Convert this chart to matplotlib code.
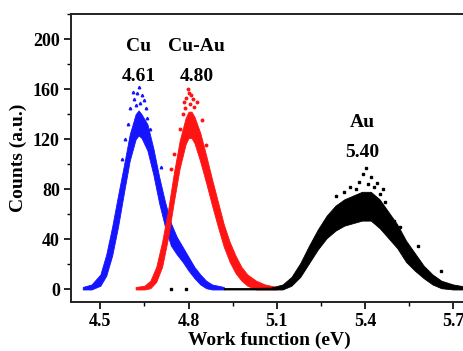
import matplotlib
matplotlib.use("Agg")
import matplotlib.pyplot as plt
from matplotlib.ticker import MultipleLocator

# Cu
cu_x = [4.44, 4.47, 4.50, 4.52, 4.54, 4.56, 4.58, 4.60, 4.62, 4.63, 4.64, 4.66,
        4.68, 4.70, 4.72, 4.74, 4.76, 4.78, 4.80, 4.82, 4.84, 4.86, 4.88, 4.92]
cu_lo = [0, 0, 3, 11, 27, 50, 77, 103, 120, 123, 121, 111,
         92, 69, 50, 35, 28, 22, 15, 9, 4, 1, 0, 0]
cu_hi = [2, 4, 12, 28, 50, 75, 99, 124, 140, 143, 140, 132,
         113, 90, 70, 53, 42, 34, 26, 18, 12, 7, 4, 2]
cu_out_x = [4.632, 4.625, 4.640, 4.615, 4.600, 4.655, 4.585, 4.670, 4.610, 4.648,
            4.620, 4.636, 4.595, 4.660, 4.705, 4.575]
cu_out_y = [162, 157, 155, 152, 145, 145, 120, 128, 158, 151,
            147, 149, 132, 137, 98, 104]

# Cu-Au
cuau_x = [4.62, 4.65, 4.67, 4.69, 4.71, 4.73, 4.75, 4.77, 4.79, 4.80, 4.81, 4.82,
          4.84, 4.86, 4.88, 4.90, 4.92, 4.94, 4.96, 4.98, 5.00, 5.03, 5.06, 5.10]
cuau_lo = [0, 0, 1, 6, 18, 41, 70, 97, 116, 121, 121, 117,
           102, 85, 67, 50, 34, 22, 13, 7, 3, 0, 0, 0]
cuau_hi = [2, 3, 7, 18, 38, 63, 93, 119, 137, 142, 142, 138,
           125, 107, 88, 70, 52, 38, 27, 18, 12, 7, 4, 2]
cuau_out_x = [4.797, 4.800, 4.810, 4.785, 4.830, 4.780, 4.845, 4.750, 4.792, 4.820,
              4.805, 4.788, 4.815, 4.770, 4.860, 4.740]
cuau_out_y = [160, 157, 155, 150, 150, 140, 135, 108, 153, 146,
              148, 145, 152, 128, 115, 96]

# Au
au_x = [4.92, 5.00, 5.08, 5.12, 5.15, 5.18, 5.21, 5.24, 5.27, 5.30, 5.33, 5.36,
        5.39, 5.42, 5.45, 5.48, 5.51, 5.54, 5.57, 5.60, 5.63, 5.66, 5.70, 5.75]
au_lo = [0, 0, 0, 0, 3, 10, 21, 32, 41, 47, 51, 53,
         55, 55, 49, 41, 33, 22, 15, 9, 4, 1, 0, 0]
au_hi = [1.2, 1.2, 1.5, 4, 10, 21, 35, 48, 59, 67, 72, 75,
         78, 78, 72, 62, 52, 39, 29, 19, 12, 7, 4, 2]
au_out_x = [5.405, 5.395, 5.420, 5.380, 5.440, 5.350, 5.460, 5.470, 5.500, 5.580,
            5.660, 4.740, 4.790, 5.300, 5.520, 5.410, 5.370, 5.430, 5.330, 5.450]
au_out_y = [97, 92, 90, 86, 85, 82, 80, 70, 55, 35,
            15, 0, 0, 75, 50, 84, 80, 82, 78, 76]

labels = [("Cu", "4.61", 4.63), ("Cu-Au", "4.80", 4.827), ("Au", "5.40", 5.39)]
label_y = [194, 194, 133]

plt.rcParams["font.family"] = ["Liberation Serif", "DejaVu Serif"]
plt.rcParams["font.weight"] = "bold"

fig = plt.figure(figsize=(4.63, 3.51), dpi=100)
ax = fig.add_axes([0.1533, 0.1396, 0.857, 0.8205])

series = [
    (cu_x, cu_lo, cu_hi, cu_out_x, cu_out_y, "#1414ff", "^"),
    (cuau_x, cuau_lo, cuau_hi, cuau_out_x, cuau_out_y, "#ff1414", "o"),
    (au_x, au_lo, au_hi, au_out_x, au_out_y, "#000000", "s"),
]
for x, lo, hi, ox, oy, color, marker in series:
    ax.fill_between(x, lo, hi, color=color, linewidth=0.6, edgecolor=color)
    ax.plot(ox, oy, linestyle="none", marker=marker, markersize=1.8, color=color)

for (name, value, xpos), ypos in zip(labels, label_y):
    ax.text(xpos, ypos, name, ha="center", va="center", fontsize=14, fontweight="bold")
    ax.text(xpos, ypos - 24, value, ha="center", va="center", fontsize=14, fontweight="bold")

ax.set_xlim(4.4, 5.75)
ax.set_ylim(-10, 220)
ax.xaxis.set_major_locator(MultipleLocator(0.3))
ax.xaxis.set_minor_locator(MultipleLocator(0.15))
ax.yaxis.set_major_locator(MultipleLocator(40))
ax.yaxis.set_minor_locator(MultipleLocator(20))
ax.set_xticks([4.5, 4.8, 5.1, 5.4, 5.7])
ax.tick_params(which="major", direction="out", length=5, width=1.2, labelsize=13, pad=3)
ax.tick_params(which="minor", direction="out", length=3, width=1.0)
for spine in ax.spines.values():
    spine.set_linewidth(1.4)
    spine.set_color("#222222")

ax.set_xlabel("Work function (eV)", fontsize=14, fontweight="bold", labelpad=1)
ax.set_ylabel("Counts (a.u.)", fontsize=14, fontweight="bold", labelpad=4)

fig.savefig("out.png", dpi=100)
